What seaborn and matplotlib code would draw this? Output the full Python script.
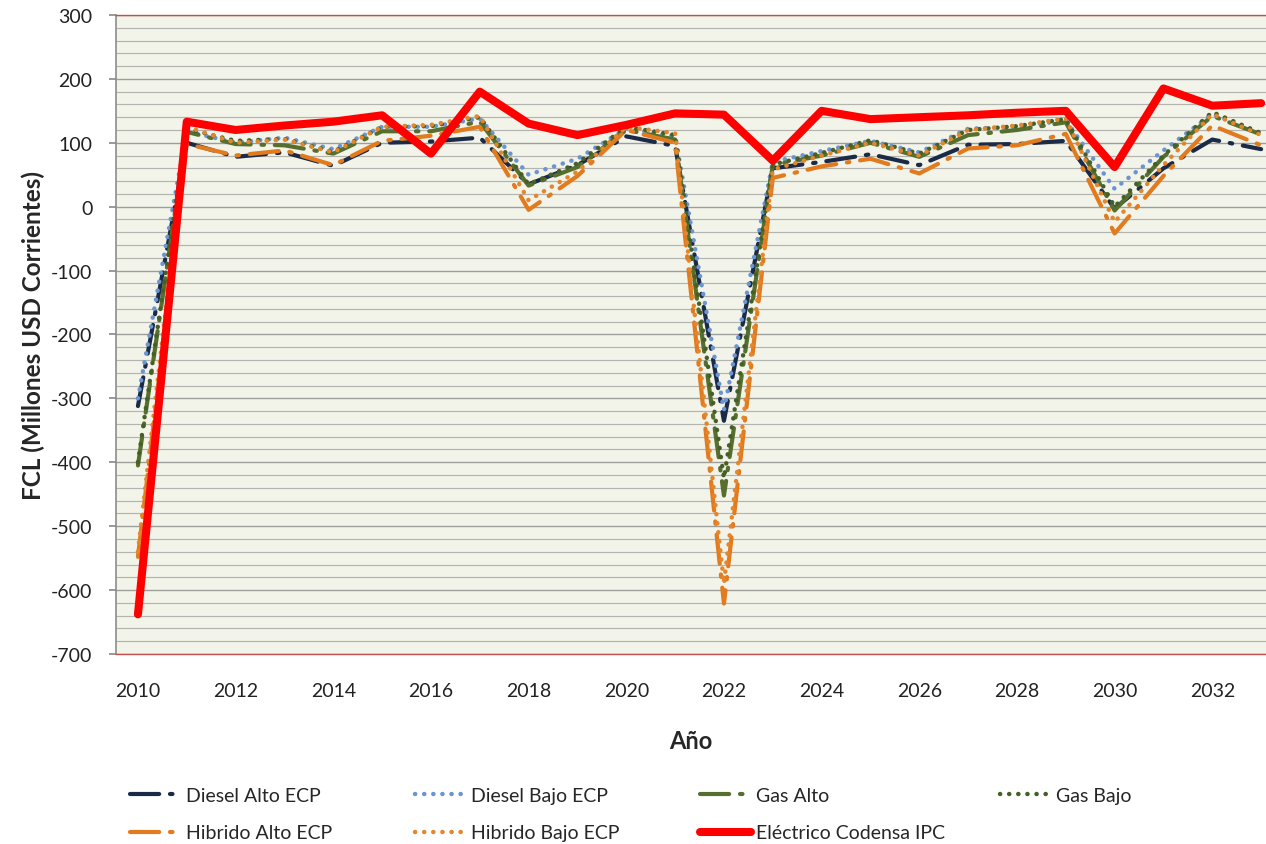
import numpy as np
import pandas as pd
import matplotlib
matplotlib.use("Agg")
import matplotlib.pyplot as plt
from matplotlib.lines import Line2D
from matplotlib.ticker import MultipleLocator
import seaborn as sns

years = list(range(2010, 2034))

diesel_alto = [-312, 100, 78, 85, 64, 100, 102, 108, 35, 65, 110, 95,
               -335, 60, 70, 82, 65, 97, 98, 103, -3, 60, 105, 90]
diesel_bajo = [-300, 118, 100, 108, 90, 125, 125, 138, 50, 75, 122, 110,
               -318, 70, 87, 103, 85, 122, 125, 135, 28, 88, 145, 115]
gas_alto = [-405, 117, 98, 96, 83, 118, 118, 133, 33, 62, 120, 105,
            -452, 65, 80, 100, 78, 112, 120, 132, -6, 78, 142, 113]
gas_bajo = [-400, 122, 103, 106, 86, 125, 126, 140, 35, 68, 125, 112,
            -425, 66, 84, 104, 83, 120, 126, 137, 0, 80, 148, 115]
hibrido_alto = [-548, 98, 80, 88, 65, 103, 111, 125, -5, 48, 120, 100,
                -621, 45, 63, 75, 52, 91, 96, 114, -42, 48, 127, 96]
hibrido_bajo = [-540, 125, 100, 105, 85, 125, 128, 142, 10, 55, 125, 115,
                -590, 58, 80, 100, 80, 120, 127, 138, -24, 65, 145, 112]
electrico = [-638, 133, 120, 127, 133, 143, 83, 180, 130, 112, 128, 146,
             144, 72, 150, 137, 140, 143, 147, 150, 62, 185, 158, 162]

series_names = ["Diesel Alto ECP", "Diesel Bajo ECP", "Gas Alto", "Gas Bajo",
                "Hibrido Alto ECP", "Hibrido Bajo ECP", "Eléctrico Codensa IPC"]
series_values = [diesel_alto, diesel_bajo, gas_alto, gas_bajo,
                 hibrido_alto, hibrido_bajo, electrico]

dash_dot = (0, (7, 2.6, 0.6, 2.6))
dots = (0, (0.05, 2.0))
styles = {
    "Diesel Alto ECP": dict(color="#1b2b47", ls=dash_dot, lw=3.0),
    "Diesel Bajo ECP": dict(color="#6b95d2", ls=dots, lw=3.2),
    "Gas Alto": dict(color="#566f2e", ls=dash_dot, lw=3.0),
    "Gas Bajo": dict(color="#456027", ls=dots, lw=3.2),
    "Hibrido Alto ECP": dict(color="#e27a1e", ls=dash_dot, lw=3.0),
    "Hibrido Bajo ECP": dict(color="#e3862c", ls=dots, lw=3.2),
    "Eléctrico Codensa IPC": dict(color="#ff0000", ls="-", lw=5.8),
}

df = pd.DataFrame({name: vals for name, vals in zip(series_names, series_values)})
df["Año"] = years

sns.set_theme(style="white")
plt.rcParams["font.family"] = ["Lato", "DejaVu Sans"]
plt.rcParams["axes.unicode_minus"] = False

fig = plt.figure(figsize=(12.66, 8.45), dpi=100)
ax = fig.add_axes([0.0916, 0.2249, 0.9084, 0.7562])
ax.set_facecolor("#f2f3e9")

handles = {}
for name in series_names:
    st = styles[name]
    sns.lineplot(data=df, x="Año", y=name, ax=ax, color=st["color"],
                 linewidth=st["lw"], legend=False)
    line = ax.lines[-1]
    line.set_linestyle(st["ls"])
    line.set_dash_capstyle("round")
    line.set_solid_capstyle("round")
    line.set_solid_joinstyle("round")
    handles[name] = Line2D([], [], color=st["color"], linewidth=st["lw"],
                           linestyle=st["ls"], dash_capstyle="round",
                           solid_capstyle="round")

ax.set_xlim(2009.55, 2033.1)
ax.set_ylim(-700, 300)
ax.yaxis.set_major_locator(MultipleLocator(100))
ax.yaxis.set_minor_locator(MultipleLocator(20))
ax.set_xticks(list(range(2010, 2034, 2)))
ax.grid(which="minor", axis="y", color="#b3b3b0", linewidth=0.85)
ax.grid(which="major", axis="y", color="#9d9d9a", linewidth=1.0)
ax.grid(False, axis="x")
ax.set_axisbelow(True)

for side in ("top", "bottom"):
    ax.spines[side].set_color("#c0504d")
    ax.spines[side].set_linewidth(1.0)
ax.spines["left"].set_color("#8c8c8c")
ax.spines["left"].set_linewidth(1.2)
ax.spines["right"].set_visible(False)

ax.tick_params(axis="y", which="major", left=True, length=5, color="#8c8c8c",
               labelsize=14, pad=12, labelcolor="#222222")
ax.tick_params(axis="y", which="minor", left=False)
ax.tick_params(axis="x", bottom=False, labelsize=14, pad=14,
               labelcolor="#222222")

ax.set_xlabel("Año", fontsize=17, fontweight="bold", labelpad=22)
ax.set_ylabel("FCL (Millones USD Corrientes)", fontsize=17.5,
              fontweight="bold", labelpad=4)

# Legend laid out as four fixed-width columns below the axes
columns = [["Diesel Alto ECP", "Hibrido Alto ECP"],
           ["Diesel Bajo ECP", "Hibrido Bajo ECP"],
           ["Gas Alto", "Eléctrico Codensa IPC"],
           ["Gas Bajo"]]
col_x = [130, 415, 700, 1000]
for names, x in zip(columns, col_x):
    fig.legend([handles[n] for n in names], names, loc="upper left",
               bbox_to_anchor=(x / 1266, 1 - 788 / 845),
               bbox_transform=fig.transFigure, frameon=False,
               fontsize=14, handlelength=2.6, handletextpad=0.3,
               labelspacing=1.05, borderpad=0, borderaxespad=0)

fig.savefig("out.png", dpi=100, facecolor="white")
